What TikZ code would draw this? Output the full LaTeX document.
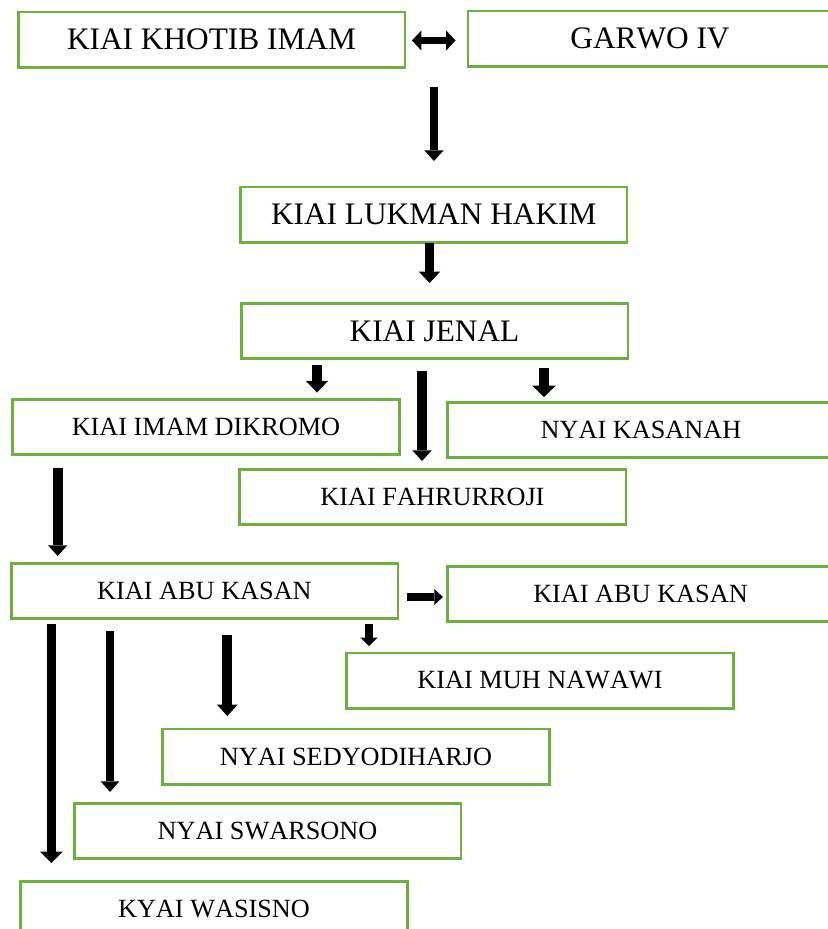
\documentclass[tikz,border=0pt]{standalone}
\usepackage{fontspec}
\setmainfont{Liberation Serif}[Kerning=Off]
\usetikzlibrary{arrows.meta}
\definecolor{boxgreen}{HTML}{70AD47}
\tikzset{
  person/.style={draw=boxgreen, line width=1.9pt, rectangle, minimum width=289.9pt,
    minimum height=41.6pt, inner sep=0pt, anchor=center, text=black},
  big/.style={person, font=\fontsize{23.5}{28}\selectfont},
  small/.style={person, font=\fontsize{19.7}{24}\selectfont},
  blockarrow/.style n args={3}{draw=black, line width=#1,
    -{Triangle[width=#2, length=#3, line width=0pt]}},
  blockboth/.style n args={3}{draw=black, line width=#1,
    {Triangle[width=#2, length=#3, line width=0pt]}-{Triangle[width=#2, length=#3, line width=0pt]}}
}
\begin{document}
\begin{tikzpicture}[x=0.75pt, y=-0.75pt]
\useasboundingbox (0,0) rectangle (828,929);

% family boxes
\node[big]   (khotib)   at (211.5,39.75) {KIAI KHOTIB IMAM};
\node[big, minimum width=273pt] (garwo) at (650,38.5) {GARWO IV};
\node[big]   (lukman)   at (433.75,214.5){KIAI LUKMAN HAKIM};
\node[big]   (jenal)    at (434.5,331)   {KIAI JENAL};
\node[small] (dikromo)  at (206,427)     {KIAI IMAM DIKROMO};
\node[small] (kasanah)  at (641,430)     {NYAI KASANAH};
\node[small] (fahru)    at (432.5,497)   {KIAI FAHRURROJI};
\node[small] (abu)      at (204.5,591)   {KIAI ABU KASAN};
\node[small] (abutwo)   at (640.5,594)   {KIAI ABU KASAN};
\node[small] (nawawi)   at (540,680.5)   {KIAI MUH NAWAWI};
\node[small] (sedyo)    at (356,756.5)   {NYAI SEDYODIHARJO};
\node[small] (swarsono) at (267.5,831)   {NYAI SWARSONO};
\node[small] (wasisno)  at (214,909)     {KYAI WASISNO};

% arrow ends
\coordinate (mL) at (412,40.5);   \coordinate (mR) at (455.5,40.5);
\coordinate (pS) at (434,87);     \coordinate (pE) at (434,161);
\coordinate (lS) at (429.5,243);  \coordinate (lE) at (429.5,283);
\coordinate (jaS) at (317,365);   \coordinate (jaE) at (317,392.5);
\coordinate (jbS) at (422,371);   \coordinate (jbE) at (422,461);
\coordinate (jcS) at (544,368);   \coordinate (jcE) at (544,397);
\coordinate (dS) at (57.7,468);   \coordinate (dE) at (57.7,556);
\coordinate (hS) at (407,597);    \coordinate (hE) at (443,597);
\coordinate (naS) at (369,624);   \coordinate (naE) at (369,646);
\coordinate (wS) at (51.3,624);   \coordinate (wE) at (51.3,863);
\coordinate (swS) at (110,631);   \coordinate (swE) at (110,792);
\coordinate (seS) at (227.3,635); \coordinate (seE) at (227.3,716);

% connectors
\draw[blockboth={5.2pt}{15pt}{7pt}] (mL) -- (mR);
\draw[blockarrow={6.6pt}{14.5pt}{8pt}] (pS) -- (pE);
\draw[blockarrow={7.4pt}{16pt}{8.5pt}] (lS) -- (lE);
\draw[blockarrow={7.5pt}{17pt}{8.8pt}] (jaS) -- (jaE);
\draw[blockarrow={7pt}{14.5pt}{8pt}] (jbS) -- (jbE);
\draw[blockarrow={7pt}{17.5pt}{8.5pt}] (jcS) -- (jcE);
\draw[blockarrow={7.5pt}{14.5pt}{8pt}] (dS) -- (dE);
\draw[blockarrow={6.2pt}{12pt}{6.5pt}] (hS) -- (hE);
\draw[blockarrow={5.4pt}{13pt}{6.3pt}] (naS) -- (naE);
\draw[blockarrow={7.2pt}{17pt}{8.5pt}] (wS) -- (wE);
\draw[blockarrow={6.2pt}{14pt}{8pt}] (swS) -- (swE);
\draw[blockarrow={7.4pt}{15.5pt}{8.5pt}] (seS) -- (seE);
\end{tikzpicture}
\end{document}
